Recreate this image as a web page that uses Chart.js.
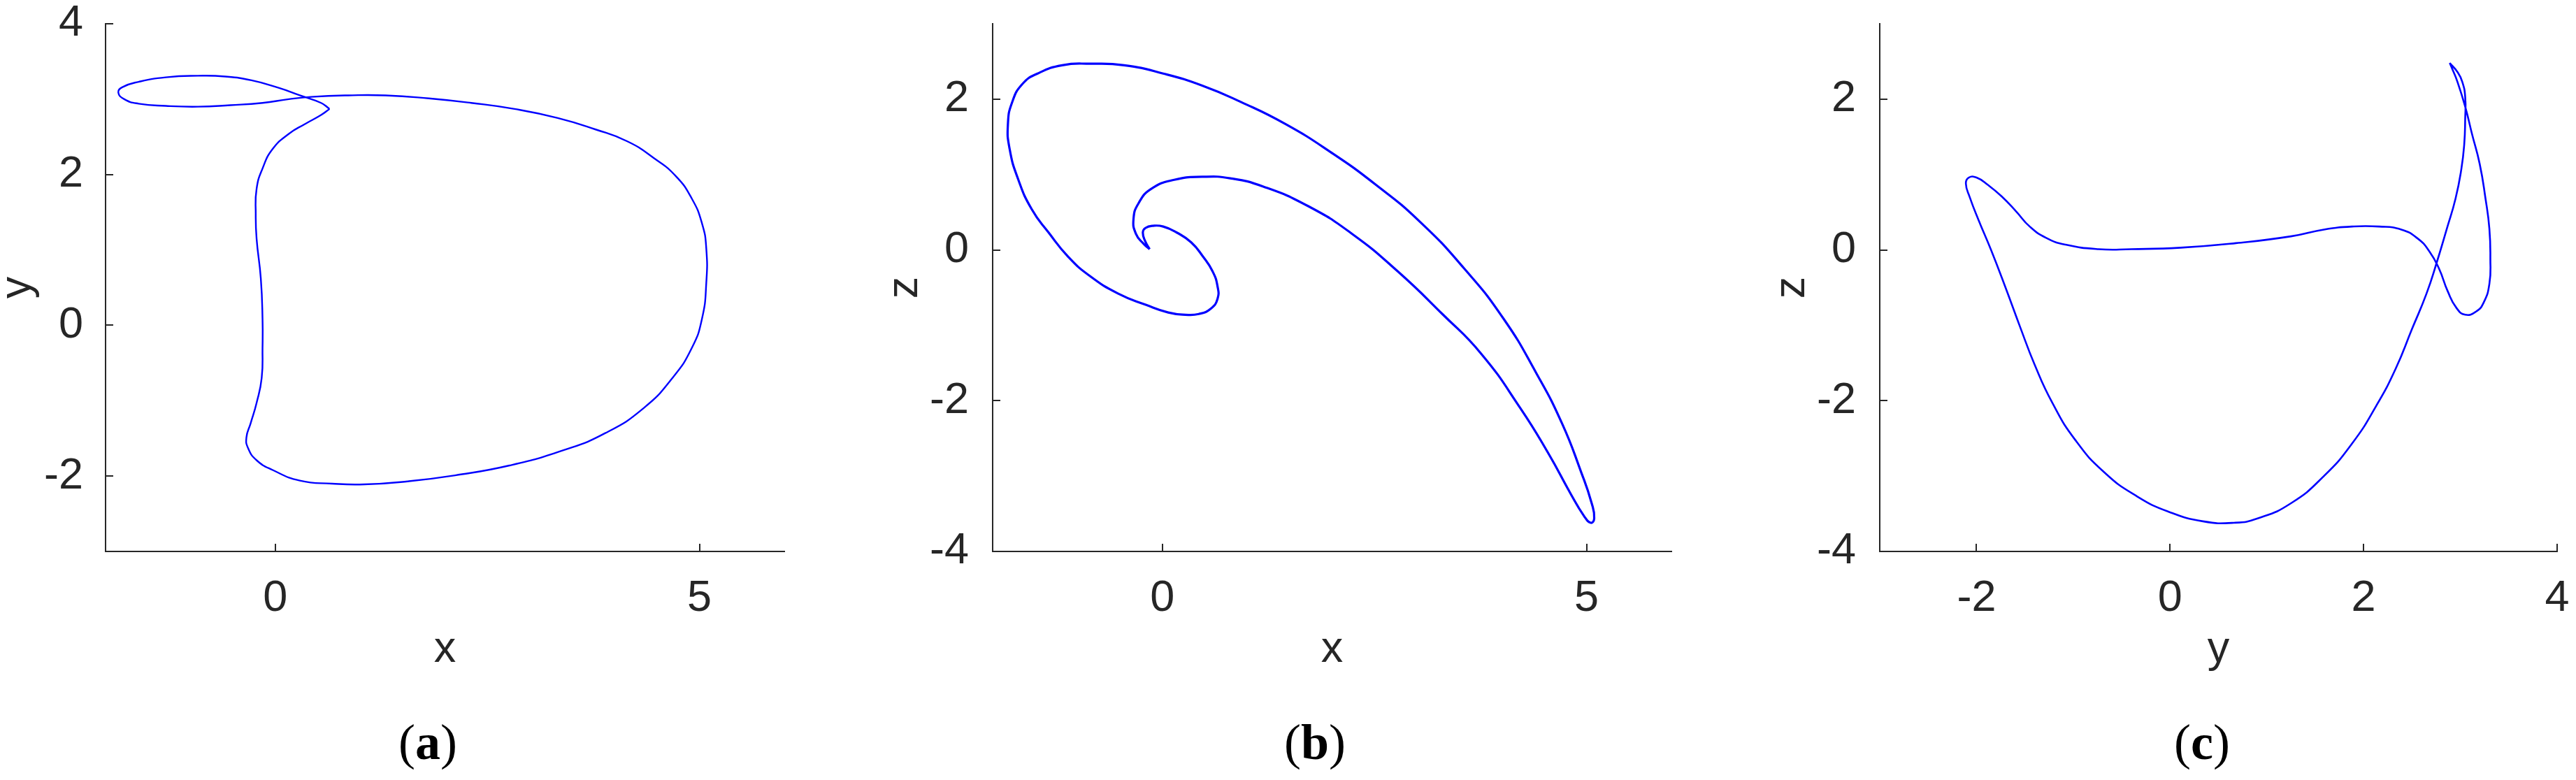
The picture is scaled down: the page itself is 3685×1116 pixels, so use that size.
<!DOCTYPE html>
<html>
<head>
<meta charset="utf-8">
<script src="https://cdn.jsdelivr.net/npm/chart.js@4.4.1/dist/chart.umd.min.js"></script>
<style>
  body { margin: 0; background: #fff; width: 3685px; height: 1116px; overflow: hidden; position: relative; }
  canvas { position: absolute; top: 0; }
  .cap { position: absolute; top: 1026px; width: 200px; text-align: center; font: 72px/72px "Liberation Serif", serif; color: #000; }
</style>
</head>
<body>
<canvas id="chartA" width="1269" height="1116" style="left:0"></canvas>
<canvas id="chartB" width="1269" height="1116" style="left:1269px"></canvas>
<canvas id="chartC" width="1147" height="1116" style="left:2538px"></canvas>
<div class="cap" style="left:512px">(<b>a</b>)</div>
<div class="cap" style="left:1781px">(<b>b</b>)</div>
<div class="cap" style="left:3050px">(<b>c</b>)</div>
<script>
// (a) x-y projection, one closed loop
const aX = [0.64, 0.54, 0.35, 0.16, -0.03, -0.15, -0.22, -0.23, -0.22, -0.17, -0.15, -0.15, -0.16, -0.22, -0.29,
  -0.34, -0.32, -0.22, -0.03, 0.29, 0.67, 1.05, 1.56, 2.12, 2.76, 3.39, 3.89, 4.34, 4.68, 4.91,
  5.03, 5.08, 5.08, 5.03, 4.91, 4.72, 4.46, 4.15, 3.77, 3.33, 2.82, 2.31, 1.81, 1.30, 0.86,
  0.42, 0.16, -0.15, -0.53, -0.91, -1.29, -1.61, -1.78, -1.85, -1.80, -1.61, -1.29, -0.91, -0.59, -0.28,
  0.04, 0.29, 0.54, 0.64];
const aY = [2.87, 2.79, 2.67, 2.54, 2.34, 2.08, 1.81, 1.48, 1.15, 0.62, 0.09, -0.30, -0.70, -1.03, -1.30,
  -1.49, -1.63, -1.79, -1.92, -2.06, -2.10, -2.11, -2.07, -1.99, -1.86, -1.66, -1.43, -1.10, -0.70, -0.30,
  0.09, 0.56, 1.02, 1.35, 1.68, 1.98, 2.22, 2.44, 2.60, 2.75, 2.87, 2.95, 3.01, 3.05, 3.05,
  3.03, 3.00, 2.95, 2.92, 2.90, 2.91, 2.94, 3.00, 3.09, 3.16, 3.23, 3.29, 3.31, 3.30, 3.25,
  3.15, 3.05, 2.95, 2.87];

// (b) x-z projection
const bX = [-0.15, -0.20, -0.23, -0.20, -0.11, 0.01, 0.17, 0.34, 0.48, 0.59, 0.65, 0.65, 0.57, 0.43, 0.27,
  0.07, -0.19, -0.52, -0.85, -1.11, -1.34, -1.54, -1.70, -1.80, -1.82, -1.77, -1.65, -1.47, -1.18, -0.85,
  -0.45, 0.01, 0.47, 0.93, 1.45, 1.98, 2.51, 3.03, 3.56, 4.02, 4.41, 4.71, 4.94, 5.06, 5.09,
  5.05, 4.97, 4.81, 4.55, 4.22, 3.76, 3.30, 2.77, 2.24, 1.72, 1.19, 0.80, 0.47, 0.14, -0.13,
  -0.28, -0.34, -0.31, -0.22, -0.15];
const bZ = [0.01, 0.11, 0.23, 0.29, 0.32, 0.31, 0.23, 0.10, -0.09, -0.28, -0.48, -0.65, -0.78, -0.85, -0.86,
  -0.83, -0.73, -0.58, -0.35, -0.09, 0.23, 0.54, 0.94, 1.34, 1.67, 1.96, 2.20, 2.34, 2.45, 2.47,
  2.45, 2.34, 2.18, 1.96, 1.67, 1.30, 0.87, 0.38, -0.25, -0.91, -1.64, -2.30, -2.96, -3.36, -3.56,
  -3.62, -3.53, -3.23, -2.70, -2.10, -1.38, -0.85, -0.28, 0.21, 0.58, 0.84, 0.95, 0.97, 0.93, 0.81,
  0.62, 0.41, 0.21, 0.08, 0.01];

// (c) y-z projection
const cY = [2.89, 2.97, 3.02, 3.05, 3.05, 3.04, 3.01, 2.95, 2.86, 2.76, 2.65, 2.50, 2.33, 2.13, 1.88,
  1.59, 1.25, 0.91, 0.66, 0.34, 0.00, -0.34, -0.68, -0.98, -1.22, -1.40, -1.55, -1.70, -1.85, -1.98,
  -2.07, -2.11, -2.08, -2.00, -1.88, -1.74, -1.59, -1.45, -1.28, -1.08, -0.74, -0.40, 0.11, 0.68, 1.25,
  1.59, 1.88, 2.16, 2.39, 2.56, 2.68, 2.78, 2.87, 2.96, 3.05, 3.16, 3.24, 3.30, 3.31, 3.30,
  3.26, 3.20, 3.12, 3.05, 2.97, 2.91, 2.89];
const cZ = [2.48, 2.36, 2.23, 2.03, 1.74, 1.40, 1.07, 0.68, 0.28, -0.15, -0.58, -1.05, -1.58, -2.07, -2.57,
  -3.00, -3.36, -3.56, -3.62, -3.60, -3.48, -3.27, -2.95, -2.52, -2.02, -1.52, -1.02, -0.50, 0.00, 0.40,
  0.70, 0.88, 0.96, 0.96, 0.86, 0.71, 0.51, 0.31, 0.16, 0.07, 0.01, 0.01, 0.03, 0.09, 0.18,
  0.27, 0.31, 0.31, 0.27, 0.15, -0.02, -0.25, -0.55, -0.77, -0.86, -0.82, -0.70, -0.45, -0.12, 0.28,
  0.68, 1.14, 1.54, 1.90, 2.23, 2.42, 2.48];

// tick values
const aXTicks = [0, 5];
const aYTicks = [-2, 0, 2, 4];
const bXTicks = [0, 5];
const bZTicks = [-4, -2, 0, 2];
const cYTicks = [-2, 0, 2, 4];
const cZTicks = [-4, -2, 0, 2];

const axisColor = '#262626';
const tickFont = { family: 'Liberation Sans', size: 63, lineHeight: 1 };

// matlab-like ticks that point into the axes
const innerTicks = {
  id: 'innerTicks',
  afterDatasetsDraw(chart) {
    const { ctx, chartArea: area, scales: { x, y } } = chart;
    ctx.save();
    ctx.strokeStyle = axisColor;
    ctx.lineWidth = 2;
    ctx.beginPath();
    x.ticks.forEach(t => {
      const px = Math.round(x.getPixelForValue(t.value));
      ctx.moveTo(px, area.bottom);
      ctx.lineTo(px, area.bottom - 11);
    });
    y.ticks.forEach(t => {
      const py = Math.round(y.getPixelForValue(t.value));
      ctx.moveTo(area.left, py);
      ctx.lineTo(area.left + 11, py);
    });
    ctx.stroke();
    ctx.restore();
  }
};

function makePanel(id, xs, ys, xLim, yLim, xTicks, yTicks, xTitle, yTitle, lineWidth, padRight, yPad) {
  const ctx = document.getElementById(id).getContext('2d');
  return new Chart(ctx, {
    type: 'scatter',
    data: {
      datasets: [{
        data: xs.map((v, i) => ({ x: v, y: ys[i] })),
        showLine: true,
        borderColor: '#0000ff',
        borderWidth: lineWidth,
        pointRadius: 0,
        tension: 0.5,
        fill: false
      }]
    },
    options: {
      responsive: false,
      animation: false,
      events: [],
      layout: { padding: { left: 0, top: 34, right: padRight, bottom: 0 } },
      plugins: { legend: { display: false }, tooltip: { enabled: false } },
      scales: {
        x: {
          type: 'linear', min: xLim[0], max: xLim[1],
          afterBuildTicks: s => { s.ticks = xTicks.map(v => ({ value: v })); },
          afterFit: s => { s.height = 327; s.paddingLeft = 0; s.paddingRight = 0; },
          grid: { display: false },
          border: { display: true, color: axisColor, width: 2 },
          ticks: { color: axisColor, font: tickFont, padding: 28, maxRotation: 0, autoSkip: false },
          title: { display: true, text: xTitle, color: axisColor, font: tickFont, padding: { top: 0, bottom: 155 } }
        },
        y: {
          type: 'linear', min: yLim[0], max: yLim[1],
          afterBuildTicks: s => { s.ticks = yTicks.map(v => ({ value: v })); },
          afterFit: s => { s.width = 151; s.paddingTop = 0; s.paddingBottom = 0; },
          grid: { display: false },
          border: { display: true, color: axisColor, width: 2 },
          ticks: { color: axisColor, font: tickFont, padding: yPad, autoSkip: false },
          title: { display: true, text: yTitle, color: axisColor,
                   font: { family: 'Liberation Sans', size: 63, lineHeight: 0.8 }, padding: { top: 0, bottom: 0 } }
        }
      }
    },
    plugins: [innerTicks]
  });
}

makePanel('chartA', aX, aY, [-2, 6], [-3, 4], aXTicks, aYTicks, 'x', 'y', 2.4, 147, 24);
makePanel('chartB', bX, bZ, [-2, 6], [-4, 3], bXTicks, bZTicks, 'x', 'z', 3.2, 147, 26);
makePanel('chartC', cY, cZ, [-3, 4], [-4, 3], cYTicks, cZTicks, 'y', 'z', 2.6, 27, 26);
</script>
</body>
</html>
